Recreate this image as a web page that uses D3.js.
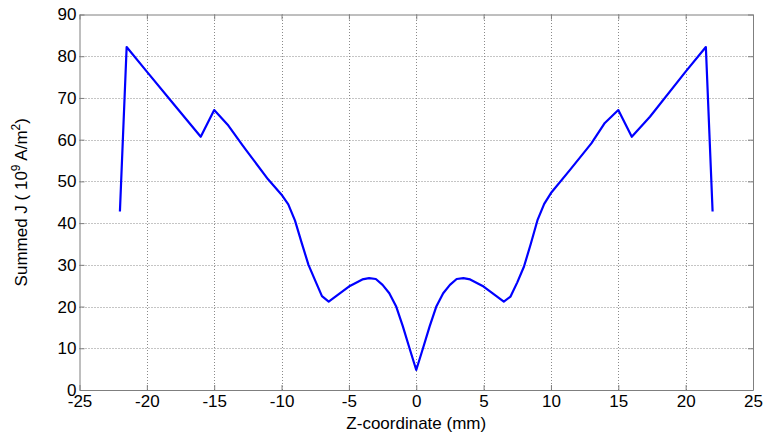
<!DOCTYPE html>
<html>
<head>
<meta charset="utf-8">
<script src="https://cdn.jsdelivr.net/npm/d3@7"></script>
<style>
  body { margin: 0; background: #fff; }
  svg { font-family: "Liberation Sans", Arial, sans-serif; }
</style>
</head>
<body>
<div id="chart"></div>
<script>
// summed current density along the z axis
const zValues = [-22, -21.5, -20, -18, -17, -16, -15, -14, -13, -12.7, -11, -10, -9.5, -9, -8.5, -8, -7.5, -7, -6.5,
  -5, -4, -3.5, -3, -2.5, -2, -1.5, -1, -0.5, 0,
  0.5, 1, 1.5, 2, 2.5, 3, 3.5, 4, 5, 6.5, 7, 7.5, 8, 8.5, 9, 9.5, 10, 11.4, 13, 14, 15, 16, 17.35, 20, 21.5, 22]
const jValues = [42.8, 82.2, 76.3, 68.5, 64.6, 60.7, 67.1, 63.6, 59.1, 57.8, 50.5, 46.8, 44.5, 40.6, 35.2, 30.0, 26.2, 22.5, 21.2,
  24.8, 26.5, 26.8, 26.6, 25.2, 23.2, 20.1, 15.3, 10.0, 4.8,
  10.0, 15.3, 20.1, 23.2, 25.2, 26.6, 26.8, 26.5, 24.8, 21.2, 22.4, 25.8, 29.6, 35.0, 40.7, 44.6, 47.2, 52.7, 59.1, 64.0, 67.1, 60.7, 65.5, 76.3, 82.2, 42.8]

const xTicks = [-25, -20, -15, -10, -5, 0, 5, 10, 15, 20, 25]
const yTicks = [0, 10, 20, 30, 40, 50, 60, 70, 80, 90]

const width = 768
const height = 441
const margin = { top: 14.5, right: 15, bottom: 51, left: 79.5 }

const svg = d3.select('#chart')
  .append('svg')
  .attr('width', width)
  .attr('height', height)

const x = d3.scaleLinear().domain([-25, 25]).range([margin.left, width - margin.right])
const y = d3.scaleLinear().domain([0, 90]).range([height - margin.bottom, margin.top])

const axisColor = '#7f7f7f'
const fmt = d => String(d) // plain hyphen, not unicode minus

// grid
const grid = svg.append('g')
  .attr('stroke', '#8a8a8a')
  .attr('stroke-width', 1)
  .attr('stroke-dasharray', '1,2')
grid.selectAll('line.gx')
  .data(xTicks.slice(1, -1))
  .join('line')
  .attr('class', 'gx')
  .attr('x1', d => Math.round(x(d)) + 0.5)
  .attr('x2', d => Math.round(x(d)) + 0.5)
  .attr('y1', y(0))
  .attr('y2', y(90))
grid.selectAll('line.gy')
  .data(yTicks.slice(1, -1))
  .join('line')
  .attr('class', 'gy')
  .attr('y1', d => Math.round(y(d)) + 0.5)
  .attr('y2', d => Math.round(y(d)) + 0.5)
  .attr('x1', x(-25))
  .attr('x2', x(25))

// axes (ticks inside, like matlab)
const xAxis = svg.append('g')
  .attr('transform', `translate(0,${y(0)})`)
  .call(d3.axisBottom(x).tickValues(xTicks).tickFormat(fmt).tickSizeInner(-5).tickSizeOuter(0).tickPadding(5))
const yAxis = svg.append('g')
  .attr('transform', `translate(${x(-25)},0)`)
  .call(d3.axisLeft(y).tickValues(yTicks).tickFormat(fmt).tickSizeInner(-5).tickSizeOuter(0).tickPadding(3))

const xTop = svg.append('g')
  .attr('transform', `translate(0,${y(90)})`)
  .call(d3.axisTop(x).tickValues(xTicks).tickSizeInner(-5).tickSizeOuter(0).tickFormat(''))
const yRight = svg.append('g')
  .attr('transform', `translate(${x(25)},0)`)
  .call(d3.axisRight(y).tickValues(yTicks).tickSizeInner(-5).tickSizeOuter(0).tickFormat(''))

for (const g of [xAxis, yAxis, xTop, yRight]) {
  g.selectAll('path, line').attr('stroke', axisColor)
  g.selectAll('text').attr('fill', '#000').style('font-size', '17px')
}

// the curve
const line = d3.line()
  .x((d, i) => x(zValues[i]))
  .y(d => y(d))

svg.append('path')
  .datum(jValues)
  .attr('fill', 'none')
  .attr('stroke', '#0000ff')
  .attr('stroke-width', 2.2)
  .attr('stroke-linejoin', 'round')
  .attr('d', line)

// labels
svg.append('text')
  .attr('x', (x(-25) + x(25)) / 2)
  .attr('y', 429)
  .attr('text-anchor', 'middle')
  .style('font-size', '17px')
  .text('Z-coordinate (mm)')

const yl = svg.append('text')
  .attr('transform', `translate(26.5,${(y(0) + y(90)) / 2}) rotate(-90)`)
  .attr('text-anchor', 'middle')
  .style('font-size', '17px')
yl.append('tspan').text('Summed J ( 10')
yl.append('tspan').attr('dy', -7).style('font-size', '12px').text('9')
yl.append('tspan').attr('dy', 7).text(' A/m')
yl.append('tspan').attr('dy', -7).style('font-size', '12px').text('2')
yl.append('tspan').attr('dy', 7).text(')')
</script>
</body>
</html>
